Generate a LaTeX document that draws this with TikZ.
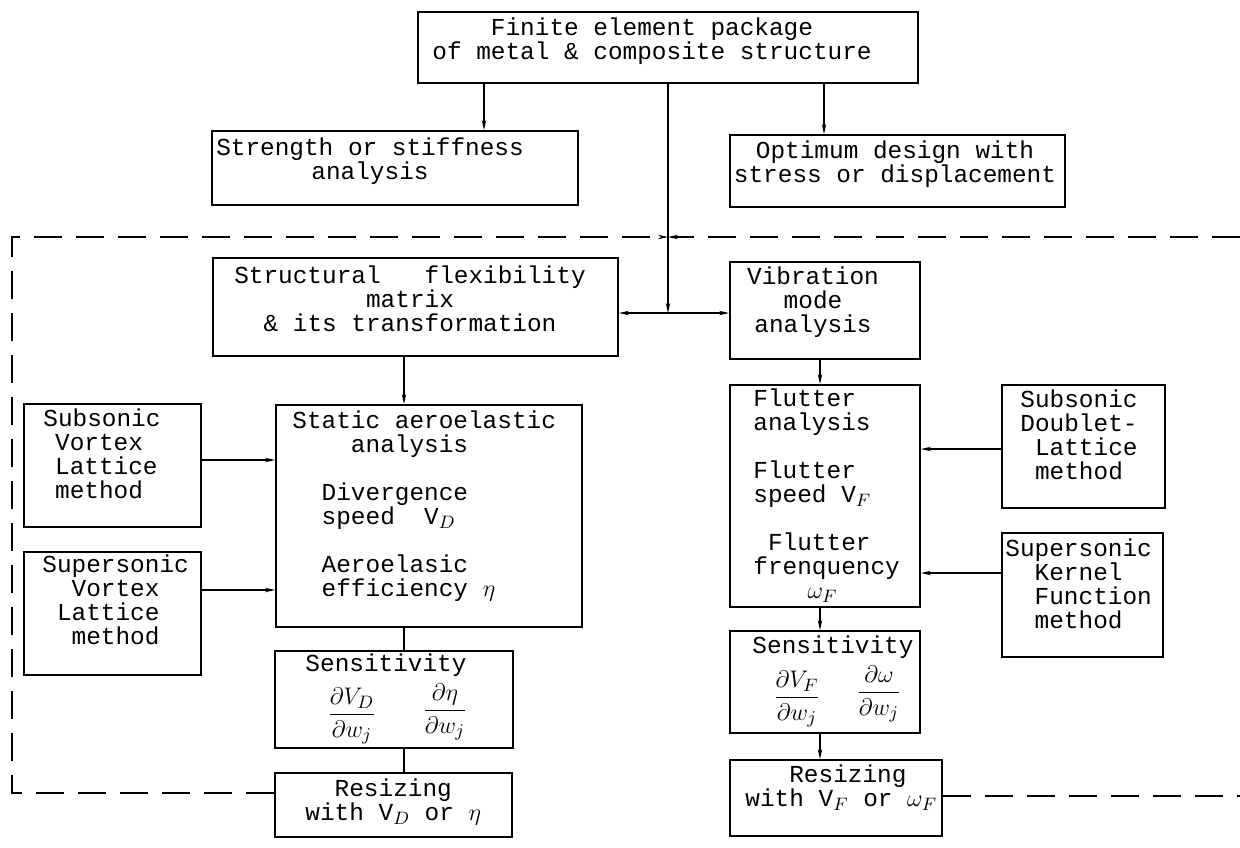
\documentclass[tikz,border=0pt]{standalone}
\usepackage{amsmath}
\usepackage{fontspec}
\setmonofont{Liberation Mono}
\usetikzlibrary{arrows.meta, positioning, fit}
\newcommand{\indch}[1]{\hspace*{#1\fontcharwd\font`0}}

\begin{document}
\begin{tikzpicture}[x=0.5pt, y=-0.5pt,
  every node/.style={font=\ttfamily\fontsize{12.2pt}{12pt}\selectfont},
  box/.style={draw, line width=0.9pt, inner sep=0pt},
  txt/.style={inner sep=0pt, anchor=north west, align=left},
  ctxt/.style={inner sep=0pt, anchor=north, align=center},
  arrow/.style={line width=0.7pt, -{Stealth[length=5pt, width=2.2pt]}},
  link/.style={line width=0.7pt},
  frame/.style={line width=0.8pt, dash pattern=on 14pt off 7pt}
]
  \useasboundingbox (0,0) rectangle (1240,847);

  % top row
  \node[box, fit={(418,12) (918,83)}] (pkg) {};
  \node[ctxt] (pkg_t) at (652,17) {Finite element package\\of metal \& composite structure};
  \node[box, fit={(212,131) (578,205)}] (str) {};
  \node[ctxt] (str_t) at (370,137) {Strength or stiffness\\analysis};
  \node[box, fit={(730,135) (1065,207)}] (opt) {};
  \node[ctxt] (opt_t) at (895,140) {Optimum design with\\stress or displacement};

  \draw[arrow] ([xshift=-92pt]pkg.south) -- ([xshift=-92pt]pkg.south |- str.north);
  \draw[arrow] ([xshift=78pt]pkg.south) -- ([xshift=78pt]pkg.south |- opt.north);

  % structural / vibration
  \node[box, fit={(213,258) (618,356)}] (struct) {};
  \node[ctxt] (struct_t) at (410,265) {Structural\ \ \ flexibility\\matrix\\\& its transformation};
  \node[box, fit={(730,262) (920,359)}] (vib) {};
  \node[ctxt] (vib_t) at (813,266) {Vibration\\mode\\analysis};

  \coordinate (jn) at (668,313);
  \draw[arrow] (pkg.south) -- (jn);
  \draw[arrow] (jn) -- (jn -| struct.east);
  \draw[arrow] (jn) -- (jn -| vib.west);

  % left column
  \coordinate (colL) at (404,0);
  \node[box, fit={(276,405) (582,627)}] (static) {};
  \node[txt] (static_t) at (292,410) {Static aeroelastic\\\indch{4}analysis\\[12pt]\indch{2}Divergence\\\indch{2}speed\ \ V$_D$\\[12pt]\indch{2}Aeroelasic\\\indch{2}efficiency $\eta$};
  \node[box, fit={(24,404) (201,527)}] (subv) {};
  \node[txt] (subv_t) at (43,408) {Subsonic\\\indch{0.8}Vortex\\\indch{0.8}Lattice\\\indch{0.8}method};
  \node[box, fit={(24,552) (201,675)}] (supv) {};
  \node[txt] (supv_t) at (42,554) {Supersonic\\\indch{2}Vortex\\\indch{1}Lattice\\\indch{2}method};
  \node[box, fit={(275,651) (513,748)}] (senl) {};
  \node[ctxt] (senl_t) at (386,653) {Sensitivity};
  \node (senl_fa) at (352,716) {$\dfrac{\partial V_{D}}{\partial w_{j}}$};
  \node (senl_fb) at (445,712) {$\dfrac{\partial\eta}{\partial w_{j}}$};
  \node[box, fit={(275,773) (512,837)}] (resl) {};
  \node[txt] (resl_t) at (305,778) {\indch{2}Resizing\\with V$_D$ or $\eta$};

  \draw[arrow] (struct.south -| colL) -- (static.north -| colL);
  \draw[arrow] ([yshift=2.75pt]subv.east) -- ([yshift=2.75pt]subv.east -| static.west);
  \draw[arrow] ([yshift=11.75pt]supv.east) -- ([yshift=11.75pt]supv.east -| static.west);
  \draw[link] (static.south -| colL) -- (senl.north -| colL);
  \draw[link] (senl.south -| colL) -- (resl.north -| colL);

  % right column
  \coordinate (colR) at (820,0);
  \node[box, fit={(730,385) (920,607)}] (flut) {};
  \node[txt] (flut_t) at (753,388) {Flutter\\analysis\\[12pt]Flutter\\speed V$_F$\\[12pt]\indch{1}Flutter\\frenquency\\\indch{3.7}$\omega_F$};
  \node[box, fit={(1002,385) (1165,508)}] (subd) {};
  \node[txt] (subd_t) at (1020,389) {Subsonic\\Doublet-\\\indch{1}Lattice\\\indch{1}method};
  \node[box, fit={(1002,533) (1163,657)}] (supk) {};
  \node[txt] (supk_t) at (1005,538) {Supersonic\\\indch{2}Kernel\\\indch{2}Function\\\indch{2}method};
  \node[box, fit={(730,631) (920,733)}] (senr) {};
  \node[ctxt] (senr_t) at (833,635) {Sensitivity};
  \node (senr_fa) at (797,699) {$\dfrac{\partial V_{F}}{\partial w_{j}}$};
  \node (senr_fb) at (879,694) {$\dfrac{\partial\omega}{\partial w_{j}}$};
  \node[box, fit={(730,760) (942,836)}] (resr) {};
  \node[txt] (resr_t) at (745,764) {\indch{3}Resizing\\with V$_F$ or $\omega_F$};

  \draw[arrow] (vib.south -| colR) -- (flut.north -| colR);
  \draw[arrow] ([yshift=-1.25pt]subd.west) -- ([yshift=-1.25pt]subd.west -| flut.east);
  \draw[arrow] ([yshift=11pt]supk.west) -- ([yshift=11pt]supk.west -| flut.east);
  \draw[arrow] (flut.south -| colR) -- (senr.north -| colR);
  \draw[arrow] (senr.south -| colR) -- (resr.north -| colR);

  % dashed boundary
  \coordinate (fr_tl) at (12,237);
  \coordinate (fr_bl) at (12,793);
  \coordinate (fr_tr) at (1240,237);
  \coordinate (fr_br) at (1240,796);
  \draw[frame, -{Stealth[length=5pt, width=2.2pt]}] (resl.west |- fr_bl) -- (fr_bl) -- (fr_tl) -- (pkg.south |- fr_tl);
  \draw[frame, -{Stealth[length=5pt, width=2.2pt]}] (fr_tr) -- (pkg.south |- fr_tl);
  \draw[frame] (resr.east |- fr_br) -- (fr_br);
\end{tikzpicture}
\end{document}
